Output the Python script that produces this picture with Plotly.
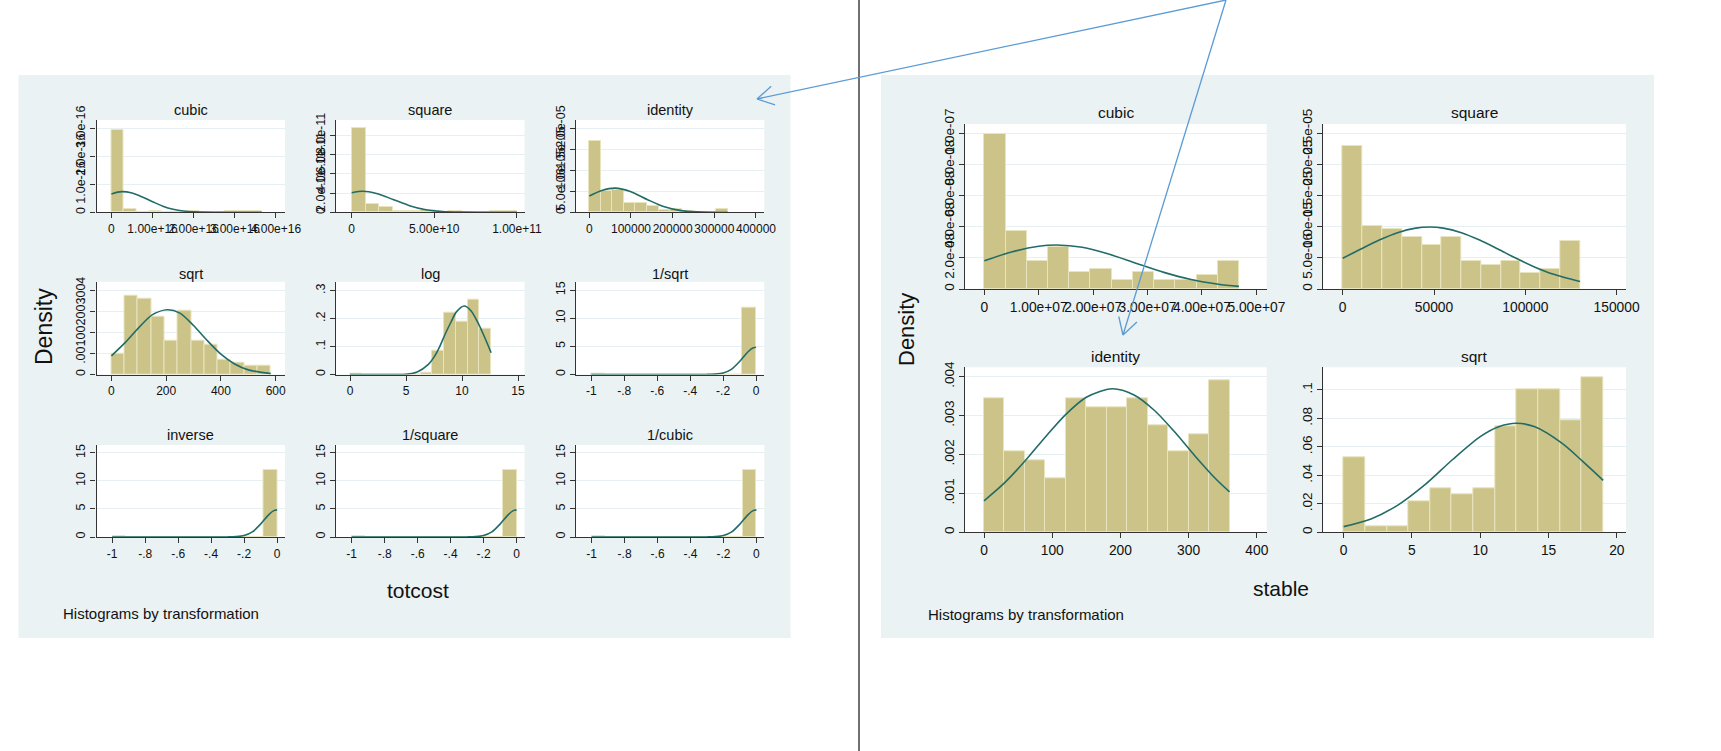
import math
import plotly.graph_objects as go

W, H = 1721, 751

# ======================= DATA: totcost (left graph) =======================
# cubic   (x in 1e16, density in 1e-16)
tc_cubic_bin_start, tc_cubic_bin_width = 0.0, 0.305
tc_cubic_density = [2.95, 0.12, 0.0, 0.06, 0.0, 0.0, 0.035, 0.0, 0.0, 0.035, 0.035, 0.035]
tc_cubic_curve_x = [0, 0.25, 0.5, 0.75, 1.0, 1.25, 1.5, 1.75, 2.0, 2.5, 3.0, 3.66]
tc_cubic_curve_y = [0.66, 0.74, 0.69, 0.55, 0.38, 0.22, 0.11, 0.045, 0.015, 0.001, 0, 0]
tc_cubic_xticks = [0, 1, 2, 3, 4]
tc_cubic_xlabels = ["0", "1.00e+16", "2.00e+16", "3.00e+16", "4.00e+16"]
tc_cubic_yticks = [0, 1, 2, 3]
tc_cubic_ylabels = ["0", "1.0e-16", "2.0e-16", "3.0e-16"]

# square  (x in 1e10, density in 1e-11)
tc_square_bin_start, tc_square_bin_width = 0.0, 0.836
tc_square_density = [8.75, 0.83, 0.52, 0.1, 0.1, 0.28, 0.0, 0.1, 0.0, 0.0, 0.1, 0.14]
tc_square_curve_x = [0, 0.67, 1.5, 2.5, 3.5, 4.5, 5.5, 6.5, 8, 10]
tc_square_curve_y = [2.04, 2.19, 1.96, 1.34, 0.69, 0.26, 0.075, 0.016, 0.001, 0]
tc_square_xticks = [0, 5, 10]
tc_square_xlabels = ["0", "5.00e+10", "1.00e+11"]
tc_square_yticks = [0, 2, 4, 6, 8]
tc_square_ylabels = ["0", "2.0e-11", "4.0e-11", "6.0e-11", "8.0e-11"]

# identity (x in 1e5, density in 1e-5)
tc_identity_bin_start, tc_identity_bin_width = 0.0, 0.277
tc_identity_density = [1.70, 0.50, 0.54, 0.22, 0.22, 0.16, 0.05, 0.07, 0.025, 0.0, 0.0, 0.07]
tc_identity_curve_x = [0, 0.3, 0.62, 1.0, 1.4, 1.8, 2.2, 2.6, 3.0, 3.32]
tc_identity_curve_y = [0.39, 0.52, 0.576, 0.49, 0.30, 0.13, 0.04, 0.01, 0.002, 0]
tc_identity_xticks = [0, 1, 2, 3, 4]
tc_identity_xlabels = ["0", "100000", "200000", "300000", "400000"]
tc_identity_yticks = [0, 0.5, 1.0, 1.5, 2.0]
tc_identity_ylabels = ["0", "5.0e-06", "1.0e-05", "1.5e-05", "2.0e-05"]

# sqrt (density in 1e-3)
tc_sqrt_bin_start, tc_sqrt_bin_width = 0.0, 48.5
tc_sqrt_density = [1.00, 3.75, 3.62, 2.74, 1.59, 3.03, 1.59, 1.43, 0.72, 0.56, 0.41, 0.41]
tc_sqrt_curve_x = [0, 50, 100, 150, 204, 250, 300, 350, 400, 450, 500, 582]
tc_sqrt_curve_y = [0.89, 1.52, 2.24, 2.86, 3.09, 2.93, 2.34, 1.62, 0.97, 0.50, 0.22, 0.04]
tc_sqrt_xticks = [0, 200, 400, 600]
tc_sqrt_xlabels = ["0", "200", "400", "600"]
tc_sqrt_yticks = [0, 1, 2, 3, 4]
tc_sqrt_ylabels = ["0", ".001", ".002", ".003", ".004"]

# log
tc_log_bin_start, tc_log_bin_width = 0.0, 1.05
tc_log_density = [0.0036, 0, 0, 0, 0, 0, 0.006, 0.084, 0.222, 0.188, 0.268, 0.163]
tc_log_curve_x = [0, 2, 4, 5, 6, 7, 7.5, 8, 8.5, 9, 9.5, 10.2, 10.8, 11.4, 12, 12.6]
tc_log_curve_y = [0, 0, 0.0001, 0.0011, 0.0089, 0.036, 0.062, 0.099, 0.145, 0.186, 0.224,
                  0.245, 0.228, 0.187, 0.135, 0.078]
tc_log_xticks = [0, 5, 10, 15]
tc_log_xlabels = ["0", "5", "10", "15"]
tc_log_yticks = [0, 0.1, 0.2, 0.3]
tc_log_ylabels = ["0", ".1", ".2", ".3"]

# 1/sqrt, inverse, 1/square, 1/cubic
neg_xticks = [-1, -0.8, -0.6, -0.4, -0.2, 0]
neg_xlabels = ["-1", "-.8", "-.6", "-.4", "-.2", "0"]
neg_yticks = [0, 5, 10, 15]
neg_ylabels = ["0", "5", "10", "15"]

tc_isqrt_bin_start, tc_isqrt_bin_width = -1.0, 0.0833
tc_isqrt_density = [0.06, 0, 0, 0, 0, 0, 0, 0, 0, 0, 0, 11.9]
tc_isqrt_curve_x = [-1, -0.6, -0.4, -0.3, -0.25, -0.2, -0.15, -0.1, -0.05, -0.02, 0]
tc_isqrt_curve_y = [0, 0, 0.0002, 0.012, 0.06, 0.25, 0.9, 2.3, 4.0, 4.7, 4.84]

tc_inverse_bin_start, tc_inverse_bin_width = -1.0, 0.0833
tc_inverse_density = [0.12, 0, 0, 0, 0, 0, 0, 0, 0, 0, 0, 11.9]
tc_inverse_curve_x = [-1, -0.6, -0.4, -0.3, -0.25, -0.2, -0.15, -0.1, -0.05, -0.02, 0]
tc_inverse_curve_y = [0, 0, 0.0002, 0.012, 0.06, 0.25, 0.9, 2.3, 4.0, 4.7, 4.84]

tc_isquare_bin_start, tc_isquare_bin_width = -1.0, 0.0833
tc_isquare_density = [0.12, 0, 0, 0, 0, 0, 0, 0, 0, 0, 0, 11.9]
tc_isquare_curve_x = [-1, -0.6, -0.4, -0.3, -0.25, -0.2, -0.15, -0.1, -0.05, -0.02, 0]
tc_isquare_curve_y = [0, 0, 0.0002, 0.012, 0.06, 0.25, 0.9, 2.3, 4.0, 4.7, 4.84]

tc_icubic_bin_start, tc_icubic_bin_width = -1.0, 0.0833
tc_icubic_density = [0.12, 0, 0, 0, 0, 0, 0, 0, 0, 0, 0, 11.9]
tc_icubic_curve_x = [-1, -0.6, -0.4, -0.3, -0.25, -0.2, -0.15, -0.1, -0.05, -0.02, 0]
tc_icubic_curve_y = [0, 0, 0.0002, 0.012, 0.06, 0.25, 0.9, 2.3, 4.0, 4.7, 4.84]

# ======================= DATA: stable (right graph) =======================
# cubic (x in 1e7, density in 1e-8)
st_cubic_bin_start, st_cubic_bin_width = 0.0, 0.39
st_cubic_density = [9.96, 3.75, 1.8, 2.72, 1.11, 1.26, 0.58, 1.11, 0.58, 0.58, 0.9, 1.8]
st_cubic_curve_x = [0, 0.5, 1.0, 1.33, 1.8, 2.3, 2.8, 3.3, 3.8, 4.3, 4.68]
st_cubic_curve_y = [1.81, 2.38, 2.75, 2.83, 2.68, 2.23, 1.64, 1.07, 0.61, 0.31, 0.17]
st_cubic_xticks = [0, 1, 2, 3, 4, 5]
st_cubic_xlabels = ["0", "1.00e+07", "2.00e+07", "3.00e+07", "4.00e+07", "5.00e+07"]
st_cubic_yticks = [0, 2, 4, 6, 8, 10]
st_cubic_ylabels = ["0", "2.0e-08", "4.0e-08", "6.0e-08", "8.0e-08", "1.0e-07"]

# square (density in 1e-5)
st_square_bin_start, st_square_bin_width = 0.0, 10830
st_square_density = [2.30, 1.02, 0.96, 0.83, 0.71, 0.83, 0.45, 0.38, 0.45, 0.26, 0.32, 0.77]
st_square_curve_x = [0, 10000, 20000, 30000, 40000, 47500, 55000, 65000, 75000, 85000,
                     95000, 105000, 115000, 130000]
st_square_curve_y = [0.494, 0.643, 0.787, 0.906, 0.979, 0.996, 0.979, 0.906, 0.787, 0.643,
                     0.493, 0.355, 0.241, 0.120]
st_square_xticks = [0, 50000, 100000, 150000]
st_square_xlabels = ["0", "50000", "100000", "150000"]
st_square_yticks = [0, 0.5, 1.0, 1.5, 2.0, 2.5]
st_square_ylabels = ["0", "5.0e-06", "1.0e-05", "1.5e-05", "2.0e-05", "2.5e-05"]

# identity (density in 1e-3)
st_identity_bin_start, st_identity_bin_width = 0.0, 30.0
st_identity_density = [3.44, 2.08, 1.85, 1.40, 3.44, 3.21, 3.21, 3.44, 2.75, 2.08, 2.53, 3.91]
st_identity_curve_x = [0, 30, 60, 90, 120, 150, 188, 220, 250, 280, 310, 340, 360]
st_identity_curve_y = [0.81, 1.27, 1.83, 2.45, 3.03, 3.47, 3.69, 3.53, 3.13, 2.57, 1.95, 1.37, 1.04]
st_identity_xticks = [0, 100, 200, 300, 400]
st_identity_xlabels = ["0", "100", "200", "300", "400"]
st_identity_yticks = [0, 1, 2, 3, 4]
st_identity_ylabels = ["0", ".001", ".002", ".003", ".004"]

# sqrt (density in 1e-2)
st_sqrt_bin_start, st_sqrt_bin_width = 0.0, 1.583
st_sqrt_density = [5.25, 0.4, 0.4, 2.2, 3.07, 2.65, 3.07, 7.45, 10.05, 10.05, 7.9, 10.9]
st_sqrt_curve_x = [0, 2, 4, 6, 8, 10, 11.3, 12.66, 14, 16, 17.5, 19]
st_sqrt_curve_y = [0.40, 0.94, 1.93, 3.38, 5.13, 6.72, 7.40, 7.66, 7.41, 6.24, 4.98, 3.65]
st_sqrt_xticks = [0, 5, 10, 15, 20]
st_sqrt_xlabels = ["0", "5", "10", "15", "20"]
st_sqrt_yticks = [0, 2, 4, 6, 8, 10]
st_sqrt_ylabels = ["0", ".02", ".04", ".06", ".08", ".1"]

# ======================= STYLE =======================
FONT = "Liberation Sans, Arial, Helvetica, sans-serif"
PANEL_BG = "#EAF2F3"
GRID = "#E6EFF1"
BAR_FILL = "#CBC387"
BAR_EDGE = "#E9E4C0"
CURVE = "#216C67"
AXIS = "#333333"
ARROW = "#5B9BD5"


def px_x(p):
    return p / W


def px_y(p):
    return 1 - p / H


fig = go.Figure()
shapes = []
annotations = []
layout_axes = {}
counter = [0]


def add_panel(title, start, width, dens, cx, cy, xunit, yunit, xrange_, yrange_,
              xticks, xlabels, yticks, ylabels, box, fs_xtick, fs_ytick, fs_title, title_y):
    counter[0] += 1
    i = counter[0]
    xa = "x" if i == 1 else f"x{i}"
    ya = "y" if i == 1 else f"y{i}"
    xkey = "xaxis" if i == 1 else f"xaxis{i}"
    ykey = "yaxis" if i == 1 else f"yaxis{i}"
    x0, x1, y0, y1 = box
    centers = [(start + (k + 0.5) * width) * xunit for k in range(len(dens))]
    fig.add_trace(go.Bar(
        x=centers, y=[d * yunit for d in dens], width=[width * xunit] * len(dens),
        marker=dict(color=BAR_FILL, line=dict(color=BAR_EDGE, width=1)),
        xaxis=xa, yaxis=ya, showlegend=False, hoverinfo="skip"))
    fig.add_trace(go.Scatter(
        x=[v * xunit for v in cx], y=[v * yunit for v in cy], mode="lines",
        line=dict(color=CURVE, width=1.6, shape="spline", smoothing=0.8),
        xaxis=xa, yaxis=ya, showlegend=False, hoverinfo="skip"))
    common = dict(showline=True, linecolor=AXIS, linewidth=1.2, ticks="outside",
                  ticklen=5, tickwidth=1, tickcolor=AXIS, zeroline=False,
                  tickmode="array", fixedrange=True, automargin=False)
    layout_axes[xkey] = dict(common, domain=[px_x(x0), px_x(x1)], anchor=ya,
                             range=[xrange_[0] * xunit, xrange_[1] * xunit],
                             tickvals=[t * xunit for t in xticks], ticktext=xlabels,
                             tickfont=dict(family=FONT, size=fs_xtick, color="#111111"),
                             showgrid=False, tickangle=0)
    layout_axes[ykey] = dict(common, domain=[px_y(y1), px_y(y0)], anchor=xa,
                             range=[yrange_[0] * yunit, yrange_[1] * yunit],
                             tickvals=[t * yunit for t in yticks], ticktext=ylabels,
                             tickfont=dict(family=FONT, size=fs_ytick, color="#111111"),
                             showgrid=True, gridcolor=GRID, gridwidth=1.3, tickangle=-90)
    # white plot region
    shapes.append(dict(type="rect", xref="paper", yref="paper", layer="below",
                       x0=px_x(x0), x1=px_x(x1), y0=px_y(y1), y1=px_y(y0),
                       fillcolor="white", line=dict(width=0)))
    annotations.append(dict(text=title, x=px_x((x0 + x1) / 2), y=px_y(title_y),
                            xref="paper", yref="paper", showarrow=False,
                            xanchor="center", yanchor="middle",
                            font=dict(family=FONT, size=fs_title, color="#111111")))


# panel backgrounds (drawn first)
shapes.append(dict(type="rect", xref="paper", yref="paper", layer="below",
                   x0=px_x(18.5), x1=px_x(790.5), y0=px_y(638), y1=px_y(75),
                   fillcolor=PANEL_BG, line=dict(width=0)))
shapes.append(dict(type="rect", xref="paper", yref="paper", layer="below",
                   x0=px_x(881), x1=px_x(1654), y0=px_y(638), y1=px_y(75),
                   fillcolor=PANEL_BG, line=dict(width=0)))

# ---- left graph geometry (pixels) ----
LC = [(96.5, 285), (336, 524.5), (576, 764.3)]
LR = [(120, 212.3), (281.7, 374.5), (445, 537)]
LT = [110, 274, 435]
fx, fy, fT = 12, 12.5, 14.5

add_panel("cubic", tc_cubic_bin_start, tc_cubic_bin_width, tc_cubic_density,
          tc_cubic_curve_x, tc_cubic_curve_y, 1e16, 1e-16, (-0.363, 4.22), (0, 3.31),
          tc_cubic_xticks, tc_cubic_xlabels, tc_cubic_yticks, tc_cubic_ylabels,
          (LC[0][0], LC[0][1], LR[0][0], LR[0][1]), fx, fy, fT, LT[0])
add_panel("square", tc_square_bin_start, tc_square_bin_width, tc_square_density,
          tc_square_curve_x, tc_square_curve_y, 1e10, 1e-11, (-0.95, 10.46), (0, 9.6),
          tc_square_xticks, tc_square_xlabels, tc_square_yticks, tc_square_ylabels,
          (LC[1][0], LC[1][1], LR[0][0], LR[0][1]), fx, fy, fT, LT[0])
add_panel("identity", tc_identity_bin_start, tc_identity_bin_width, tc_identity_density,
          tc_identity_curve_x, tc_identity_curve_y, 1e5, 1e-5, (-0.32, 4.2), (0, 2.2),
          tc_identity_xticks, tc_identity_xlabels, tc_identity_yticks, tc_identity_ylabels,
          (LC[2][0], LC[2][1], LR[0][0], LR[0][1]), fx, fy, fT, LT[0])
add_panel("sqrt", tc_sqrt_bin_start, tc_sqrt_bin_width, tc_sqrt_density,
          tc_sqrt_curve_x, tc_sqrt_curve_y, 1, 1e-3, (-54.5, 634), (0, 4.43),
          tc_sqrt_xticks, tc_sqrt_xlabels, tc_sqrt_yticks, tc_sqrt_ylabels,
          (LC[0][0], LC[0][1], LR[1][0], LR[1][1]), fx, fy, fT, LT[1])
add_panel("log", tc_log_bin_start, tc_log_bin_width, tc_log_density,
          tc_log_curve_x, tc_log_curve_y, 1, 1, (-1.25, 15.58), (0, 0.332),
          tc_log_xticks, tc_log_xlabels, tc_log_yticks, tc_log_ylabels,
          (LC[1][0], LC[1][1], LR[1][0], LR[1][1]), fx, fy, fT, LT[1])
add_panel("1/sqrt", tc_isqrt_bin_start, tc_isqrt_bin_width, tc_isqrt_density,
          tc_isqrt_curve_x, tc_isqrt_curve_y, 1, 1, (-1.093, 0.05), (0, 16.5),
          neg_xticks, neg_xlabels, neg_yticks, neg_ylabels,
          (LC[2][0], LC[2][1], LR[1][0], LR[1][1]), fx, fy, fT, LT[1])
add_panel("inverse", tc_inverse_bin_start, tc_inverse_bin_width, tc_inverse_density,
          tc_inverse_curve_x, tc_inverse_curve_y, 1, 1, (-1.095, 0.048), (0, 16.4),
          neg_xticks, neg_xlabels, neg_yticks, neg_ylabels,
          (LC[0][0], LC[0][1], LR[2][0], LR[2][1]), fx, fy, fT, LT[2])
add_panel("1/square", tc_isquare_bin_start, tc_isquare_bin_width, tc_isquare_density,
          tc_isquare_curve_x, tc_isquare_curve_y, 1, 1, (-1.095, 0.048), (0, 16.4),
          neg_xticks, neg_xlabels, neg_yticks, neg_ylabels,
          (LC[1][0], LC[1][1], LR[2][0], LR[2][1]), fx, fy, fT, LT[2])
add_panel("1/cubic", tc_icubic_bin_start, tc_icubic_bin_width, tc_icubic_density,
          tc_icubic_curve_x, tc_icubic_curve_y, 1, 1, (-1.095, 0.048), (0, 16.4),
          neg_xticks, neg_xlabels, neg_yticks, neg_ylabels,
          (LC[2][0], LC[2][1], LR[2][0], LR[2][1]), fx, fy, fT, LT[2])

# ---- right graph geometry (pixels) ----
RC = [(965, 1266.7), (1323.3, 1626)]
RR = [(124, 289), (367.3, 532.3)]
RT = [113, 356.7]
rx, ry, rT = 13.8, 13.5, 15.5

add_panel("cubic", st_cubic_bin_start, st_cubic_bin_width, st_cubic_density,
          st_cubic_curve_x, st_cubic_curve_y, 1e7, 1e-8, (-0.355, 5.19), (0, 10.61),
          st_cubic_xticks, st_cubic_xlabels, st_cubic_yticks, st_cubic_ylabels,
          (RC[0][0], RC[0][1], RR[0][0], RR[0][1]), rx, ry, rT, RT[0])
add_panel("square", st_square_bin_start, st_square_bin_width, st_square_density,
          st_square_curve_x, st_square_curve_y, 1, 1e-5, (-10624, 155148), (0, 2.653),
          st_square_xticks, st_square_xlabels, st_square_yticks, st_square_ylabels,
          (RC[1][0], RC[1][1], RR[0][0], RR[0][1]), rx, ry, rT, RT[0])
add_panel("identity", st_identity_bin_start, st_identity_bin_width, st_identity_density,
          st_identity_curve_x, st_identity_curve_y, 1, 1e-3, (-27.9, 414.5), (0, 4.24),
          st_identity_xticks, st_identity_xlabels, st_identity_yticks, st_identity_ylabels,
          (RC[0][0], RC[0][1], RR[1][0], RR[1][1]), rx, ry, rT, RT[1])
add_panel("sqrt", st_sqrt_bin_start, st_sqrt_bin_width, st_sqrt_density,
          st_sqrt_curve_x, st_sqrt_curve_y, 1, 1e-2, (-1.49, 20.67), (0, 11.59),
          st_sqrt_xticks, st_sqrt_xlabels, st_sqrt_yticks, st_sqrt_ylabels,
          (RC[1][0], RC[1][1], RR[1][0], RR[1][1]), rx, ry, rT, RT[1])


def text(t, x, y, size, angle=0, anchor="center"):
    annotations.append(dict(text=t, x=px_x(x), y=px_y(y), xref="paper", yref="paper",
                            showarrow=False, xanchor=anchor, yanchor="middle",
                            textangle=angle,
                            font=dict(family=FONT, size=size, color="#111111")))


text("Density", 44, 327, 23, angle=-90)
text("Density", 906, 330, 22, angle=-90)
text("totcost", 418, 590, 21)
text("stable", 1281, 588, 21)
text("Histograms by transformation", 61, 613, 15, anchor="left")
text("Histograms by transformation", 926, 614, 15, anchor="left")

# divider line
shapes.append(dict(type="line", xref="paper", yref="paper", layer="above",
                   x0=px_x(859), x1=px_x(859), y0=0, y1=1,
                   line=dict(color="#404040", width=1.5)))


# arrows (open V heads)
def arrow(xs, ys, xe, ye, head=19, half_angle=30):
    shapes.append(dict(type="line", xref="paper", yref="paper", layer="above",
                       x0=px_x(xs), y0=px_y(ys), x1=px_x(xe), y1=px_y(ye),
                       line=dict(color=ARROW, width=1.3)))
    ang = math.atan2(ys - ye, xs - xe)
    for s in (-1, 1):
        a = ang + s * math.radians(half_angle)
        shapes.append(dict(type="line", xref="paper", yref="paper", layer="above",
                           x0=px_x(xe), y0=px_y(ye),
                           x1=px_x(xe + head * math.cos(a)), y1=px_y(ye + head * math.sin(a)),
                           line=dict(color=ARROW, width=1.3)))


arrow(1226, 0, 757, 99)
arrow(1226, 0, 1123, 335)

fig.update_layout(template="none", autosize=False, width=W, height=H,
                  margin=dict(l=0, r=0, t=0, b=0, pad=0, autoexpand=False),
                  paper_bgcolor="white", plot_bgcolor="rgba(0,0,0,0)",
                  bargap=0, barmode="overlay", showlegend=False,
                  shapes=shapes, annotations=annotations, **layout_axes)

# pin the graph to the page's top-left corner (no default body margin)
pin_js = ("document.body.style.margin='0';"
          "var d=document.getElementById('{plot_id}');"
          "d.style.position='absolute';d.style.left='0px';d.style.top='0px';")

fig.write_html("out.html", post_script=pin_js,
               config={"displayModeBar": False, "responsive": False})
